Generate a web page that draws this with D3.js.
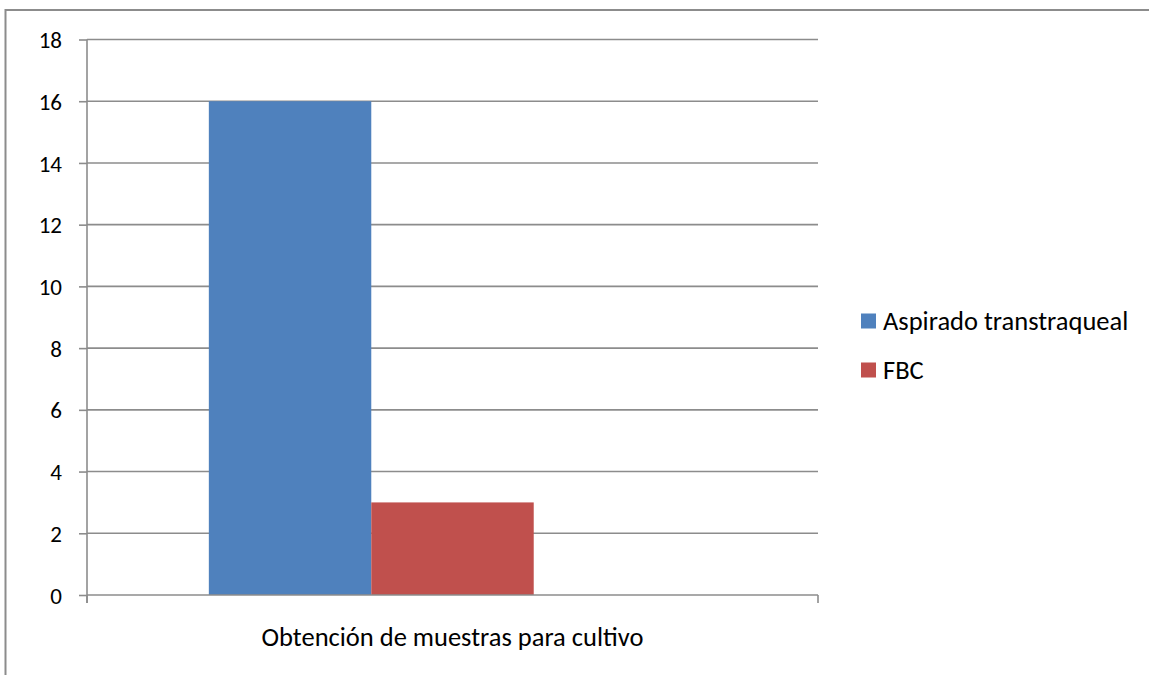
<!DOCTYPE html>
<html>
<head>
<meta charset="utf-8">
<script src="https://cdn.jsdelivr.net/npm/d3@7"></script>
<style>
  html, body { margin: 0; padding: 0; background: #ffffff; }
  svg { display: block; }
  text { font-family: Carlito, Lato, "Open Sans", sans-serif; fill: #000; }
</style>
</head>
<body>
<svg id="chart" width="1149" height="675"></svg>
<script>
// Chart data
const categories = ["Obtención de muestras para cultivo"];
const seriesNames = ["Aspirado transtraqueal", "FBC"];
const seriesValues = [[16], [3]];   // one value per category for each series
const seriesColors = ["#4F81BD", "#C0504D"];
const yTicks = [0, 2, 4, 6, 8, 10, 12, 14, 16, 18];

const svg = d3.select("#chart");
const W = 1149, H = 675;
const plot = { left: 87, right: 818, top: 39.5, bottom: 595 };
const tickFont = 23;
const labelFont = 26.5;
const gridColor = "#8c8c8c";

// Outer frame of the chart area (runs off the right and bottom edges)
svg.append("rect")
  .attr("x", 5.5).attr("y", 10)
  .attr("width", W + 20).attr("height", H + 20)
  .attr("fill", "#fff")
  .attr("stroke", gridColor)
  .attr("stroke-width", 2);

const y = d3.scaleLinear().domain([0, 18]).range([plot.bottom, plot.top]);
const x0 = d3.scaleBand().domain(categories).range([plot.left, plot.right]).padding(0);
const x1 = d3.scaleBand().domain(seriesNames)
  .range([0, x0.bandwidth()])
  .paddingInner(0).paddingOuter(1.25).align(0.3);

// Horizontal gridlines
svg.append("g").selectAll("line").data(yTicks.filter(t => t > 0)).join("line")
  .attr("x1", plot.left).attr("x2", plot.right)
  .attr("y1", d => y(d)).attr("y2", d => y(d))
  .attr("stroke", gridColor).attr("stroke-width", 1.6);

// Bars
const groups = svg.append("g").selectAll("g").data(categories).join("g")
  .attr("transform", d => `translate(${x0(d)},0)`);
groups.selectAll("rect")
  .data((c, ci) => seriesNames.map((s, si) => ({ s, si, v: seriesValues[si][ci] })))
  .join("rect")
  .attr("x", d => x1(d.s))
  .attr("width", x1.bandwidth())
  .attr("y", d => y(d.v))
  .attr("height", d => y(0) - y(d.v))
  .attr("fill", d => seriesColors[d.si]);

// Y axis
const yAxis = d3.axisLeft(y).tickValues(yTicks).tickSize(8).tickPadding(17).tickFormat(d3.format("d"));
const gy = svg.append("g").attr("transform", `translate(${plot.left},0)`).call(yAxis);
gy.select(".domain").remove();
gy.selectAll(".tick line").attr("stroke", gridColor).attr("stroke-width", 1.6);
gy.selectAll(".tick text")
  .attr("font-size", tickFont)
  .attr("font-family", null)
  .attr("dy", "0.35em");
svg.append("line")
  .attr("x1", plot.left).attr("x2", plot.left)
  .attr("y1", plot.top).attr("y2", plot.bottom + 8)
  .attr("stroke", gridColor).attr("stroke-width", 1.6);

// X axis baseline with category boundary ticks
svg.append("line")
  .attr("x1", plot.left).attr("x2", plot.right)
  .attr("y1", y(0)).attr("y2", y(0))
  .attr("stroke", gridColor).attr("stroke-width", 1.6);
svg.append("g").selectAll("line").data([plot.left, plot.right]).join("line")
  .attr("x1", d => d).attr("x2", d => d)
  .attr("y1", y(0)).attr("y2", y(0) + 8)
  .attr("stroke", gridColor).attr("stroke-width", 1.6);
svg.append("g").selectAll("text").data(categories).join("text")
  .attr("x", d => x0(d) + x0.bandwidth() / 2)
  .attr("y", 637)
  .attr("dy", "0.35em")
  .attr("text-anchor", "middle")
  .attr("font-size", labelFont)
  .text(d => d);

// Legend
const legend = svg.append("g").attr("transform", "translate(861,313.5)");
const item = legend.selectAll("g").data(seriesNames).join("g")
  .attr("transform", (d, i) => `translate(0,${i * 49})`);
item.append("rect")
  .attr("width", 15).attr("height", 15)
  .attr("fill", (d, i) => seriesColors[i]);
item.append("text")
  .attr("x", 22).attr("y", 7.5).attr("dy", "0.35em")
  .attr("font-size", labelFont)
  .text(d => d);
</script>
</body>
</html>
